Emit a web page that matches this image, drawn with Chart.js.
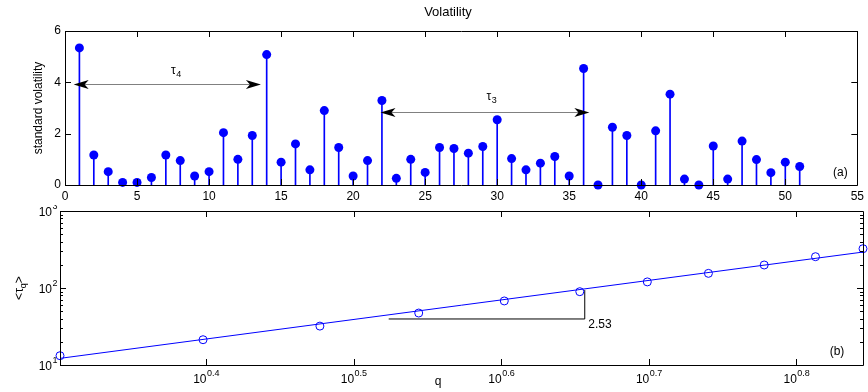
<!DOCTYPE html>
<html>
<head>
<meta charset="utf-8">
<script src="https://cdn.jsdelivr.net/npm/chart.js@4/dist/chart.umd.min.js"></script>
<style>
  body { margin: 0; background: #fff; width: 868px; height: 392px; position: relative; overflow: hidden; }
  canvas { position: absolute; left: 0; }
  #volChart { top: 0; }
  #tauChart { top: 205px; }
</style>
</head>
<body>
<canvas id="volChart" width="868" height="205"></canvas>
<canvas id="tauChart" width="868" height="187"></canvas>
<script>
var FONT = "'Liberation Sans', Arial, sans-serif"
var BLUE = '#0000ff'

//panel (a) data
var days = [1, 2, 3, 4, 5, 6, 7, 8, 9, 10, 11, 12, 13, 14, 15, 16, 17, 18, 19, 20,
  21, 22, 23, 24, 25, 26, 27, 28, 29, 30, 31, 32, 33, 34, 35, 36, 37, 38, 39, 40,
  41, 42, 43, 44, 45, 46, 47, 48, 49, 50, 51]
var volatility = [5.34, 1.17, 0.52, 0.10, 0.10, 0.29, 1.17, 0.95, 0.35, 0.52,
  2.04, 1.00, 1.93, 5.08, 0.89, 1.60, 0.59, 2.90, 1.46, 0.35,
  0.95, 3.29, 0.26, 1.00, 0.49, 1.46, 1.42, 1.24, 1.50, 2.54,
  1.03, 0.59, 0.85, 1.11, 0.35, 4.54, 0, 2.25, 1.93, 0,
  2.11, 3.54, 0.23, 0, 1.52, 0.23, 1.71, 0.99, 0.48, 0.89, 0.72]
var volXTicks = [0, 5, 10, 15, 20, 25, 30, 35, 40, 45, 50, 55]
var volYTicks = [0, 2, 4, 6]
//arrows: [from, to, level, label, label x, label y, subscript]
var tau4 = [0.6, 13.6, 3.95, 4.45, 7.7]
var tau3 = [21.9, 36.4, 2.86, 3.44, 29.6]

//panel (b) data
var qValues = [2, 2.5, 3, 3.5, 4, 4.5, 5, 5.5, 6, 6.5, 7]
var tauMean = [13.2, 21.3, 32, 47.3, 67.9, 89.6, 120, 155, 199, 255, 324]
var fitQ = [2, 7]
var fitTau = [12.2, 293]
var slopeQ = [3.34, 4.535, 4.535]
var slopeTau = [39.6, 39.6, 94]
var slopeText = '2.53'
var qTickExp = ['0.4', '0.5', '0.6', '0.7', '0.8']
var tauTickExp = ['1', '2', '3']
var tauMinor = [20, 30, 40, 50, 60, 70, 80, 90, 200, 300, 400, 500, 600, 700, 800, 900]

function pts(xs, ys) {
  return xs.map(function(x, i) { return {x: x, y: ys[i]} })
}

//box + inward ticks like matlab
function drawBox(chart, xVals, yVals, yMinor) {
  var ctx = chart.ctx, a = chart.chartArea
  var sx = chart.scales.x, sy = chart.scales.y
  ctx.save()
  ctx.strokeStyle = '#000'
  ctx.lineWidth = 1
  ctx.beginPath()
  ctx.rect(Math.round(a.left) + 0.5, Math.round(a.top) + 0.5, Math.round(a.right - a.left), Math.round(a.bottom - a.top))
  xVals.forEach(function(v) {
    var px = Math.round(sx.getPixelForValue(v)) + 0.5
    ctx.moveTo(px, a.bottom); ctx.lineTo(px, a.bottom - 6)
    ctx.moveTo(px, a.top); ctx.lineTo(px, a.top + 6)
  })
  yVals.forEach(function(v) {
    var py = Math.round(sy.getPixelForValue(v)) + 0.5
    ctx.moveTo(a.left, py); ctx.lineTo(a.left + 6, py)
    ctx.moveTo(a.right, py); ctx.lineTo(a.right - 6, py)
  })
  ;(yMinor || []).forEach(function(v) {
    var py = Math.round(sy.getPixelForValue(v)) + 0.5
    ctx.moveTo(a.left, py); ctx.lineTo(a.left + 3, py)
    ctx.moveTo(a.right, py); ctx.lineTo(a.right - 3, py)
  })
  ctx.stroke()
  ctx.restore()
}

//text with superscript (up) or subscript (down)
function scriptText(ctx, base, small, x, y, align, up) {
  ctx.font = '12px ' + FONT
  var w1 = ctx.measureText(base).width
  ctx.font = '9px ' + FONT
  var w2 = ctx.measureText(small).width
  var x0 = align == 'right' ? x - w1 - w2 : (align == 'center' ? x - (w1 + w2) / 2 : x)
  ctx.textAlign = 'left'
  ctx.textBaseline = 'middle'
  ctx.font = '12px ' + FONT
  ctx.fillText(base, x0, y)
  ctx.font = '9px ' + FONT
  ctx.fillText(small, x0 + w1 + 0.5, up ? y - 6 : y + 4)
}

function arrowHead(ctx, x, y, dir) {
  ctx.beginPath()
  ctx.moveTo(x, y)
  ctx.lineTo(x + dir * 15, y - 4.5)
  ctx.lineTo(x + dir * 11, y)
  ctx.lineTo(x + dir * 15, y + 4.5)
  ctx.closePath()
  ctx.fill()
}

function drawArrow(chart, arr, sub) {
  var ctx = chart.ctx, sx = chart.scales.x, sy = chart.scales.y
  var x1 = sx.getPixelForValue(arr[0]), x2 = sx.getPixelForValue(arr[1])
  var y = Math.round(sy.getPixelForValue(arr[2])) + 0.5
  ctx.save()
  ctx.strokeStyle = '#808080'
  ctx.lineWidth = 1
  ctx.beginPath()
  ctx.moveTo(x1 + 10, y); ctx.lineTo(x2 - 10, y)
  ctx.stroke()
  ctx.fillStyle = '#000'
  arrowHead(ctx, x1, y, 1)
  arrowHead(ctx, x2, y, -1)
  scriptText(ctx, 'τ', sub, sx.getPixelForValue(arr[4]), sy.getPixelForValue(arr[3]), 'center', false)
  ctx.restore()
}

var volExtras = {
  id: 'volExtras',
  afterDatasetsDraw: function(chart) {
    var ctx = chart.ctx, a = chart.chartArea
    drawBox(chart, volXTicks, volYTicks)
    drawArrow(chart, tau4, '4')
    drawArrow(chart, tau3, '3')
    ctx.save()
    ctx.fillStyle = '#000'
    ctx.textBaseline = 'middle'
    ctx.textAlign = 'center'
    ctx.font = '13px ' + FONT
    ctx.fillText('Volatility', 448, 12)
    ctx.font = '12px ' + FONT
    ctx.fillText('(a)', a.right - 17, a.bottom - 12)
    ctx.restore()
  }
}

new Chart(document.getElementById('volChart'), {
  type: 'bar',
  data: {
    datasets: [{
      type: 'bar',
      data: pts(days, volatility),
      backgroundColor: BLUE,
      barThickness: 1,
      order: 2
    }, {
      type: 'scatter',
      data: pts(days, volatility),
      pointRadius: 4.5,
      pointBackgroundColor: BLUE,
      pointBorderWidth: 0,
      clip: false,
      order: 1
    }]
  },
  options: {
    responsive: false,
    animation: false,
    layout: { padding: { top: 31, right: 8 } },
    plugins: { legend: { display: false }, tooltip: { enabled: false } },
    scales: {
      x: {
        type: 'linear', min: 0, max: 55, offset: false,
        grid: { display: false, drawTicks: false, offset: false },
        border: { display: false },
        ticks: { stepSize: 5, padding: 4, color: '#000', font: { size: 12, family: FONT } },
        afterFit: function(s) { s.height = 20 }
      },
      y: {
        min: 0, max: 6,
        grid: { display: false, drawTicks: false },
        border: { display: false },
        ticks: { stepSize: 2, padding: 4, color: '#000', font: { size: 12, family: FONT } },
        title: { display: true, text: 'standard volatility', color: '#000', font: { size: 12, family: FONT }, padding: { top: 31 } },
        afterFit: function(s) { s.width = 65 }
      }
    }
  },
  plugins: [volExtras]
})

var tauExtras = {
  id: 'tauExtras',
  afterDatasetsDraw: function(chart) {
    var ctx = chart.ctx, a = chart.chartArea
    var sx = chart.scales.x, sy = chart.scales.y
    var qTicks = qTickExp.map(function(e) { return Math.pow(10, parseFloat(e)) })
    var tauTicks = tauTickExp.map(function(e) { return Math.pow(10, parseFloat(e)) })
    drawBox(chart, qTicks, tauTicks, tauMinor)
    ctx.save()
    ctx.fillStyle = '#000'
    qTicks.forEach(function(v, i) {
      scriptText(ctx, '10', qTickExp[i], sx.getPixelForValue(v), a.bottom + 15, 'center', true)
    })
    tauTicks.forEach(function(v, i) {
      scriptText(ctx, '10', tauTickExp[i], a.left - 3, sy.getPixelForValue(v) + 2, 'right', true)
    })
    ctx.font = '12px ' + FONT
    ctx.textAlign = 'center'
    ctx.textBaseline = 'middle'
    ctx.fillText('q', 438, 177)
    ctx.fillText('(b)', a.right - 26, a.bottom - 13)
    ctx.textAlign = 'left'
    ctx.fillText(slopeText, sx.getPixelForValue(4.56), sy.getPixelForValue(33))
    //rotated y label <tau_q>
    ctx.translate(20, 83)
    ctx.rotate(-Math.PI / 2)
    ctx.font = '12px ' + FONT
    var w1 = ctx.measureText('<τ').width
    ctx.font = '9px ' + FONT
    var w2 = ctx.measureText('q').width
    ctx.font = '12px ' + FONT
    var w3 = ctx.measureText('>').width
    var x0 = -(w1 + w2 + w3) / 2
    ctx.fillText('<τ', x0, 0)
    ctx.font = '9px ' + FONT
    ctx.fillText('q', x0 + w1, 4)
    ctx.font = '12px ' + FONT
    ctx.fillText('>', x0 + w1 + w2, 0)
    ctx.restore()
  }
}

new Chart(document.getElementById('tauChart'), {
  type: 'scatter',
  data: {
    datasets: [{
      data: pts(qValues, tauMean),
      pointRadius: 4,
      pointBackgroundColor: 'rgba(0,0,0,0)',
      pointBorderColor: BLUE,
      pointBorderWidth: 1,
      clip: false
    }, {
      data: pts(fitQ, fitTau),
      showLine: true,
      borderColor: BLUE,
      borderWidth: 1,
      pointRadius: 0
    }, {
      data: pts(slopeQ, slopeTau),
      showLine: true,
      borderColor: '#000',
      borderWidth: 1,
      pointRadius: 0
    }]
  },
  options: {
    responsive: false,
    animation: false,
    layout: { padding: { top: 6, right: 5 } },
    plugins: { legend: { display: false }, tooltip: { enabled: false } },
    scales: {
      x: {
        type: 'logarithmic', min: 2, max: 7,
        grid: { display: false, drawTicks: false },
        border: { display: false },
        ticks: { display: false },
        afterFit: function(s) { s.height = 27 }
      },
      y: {
        type: 'logarithmic', min: 10, max: 1000,
        grid: { display: false, drawTicks: false },
        border: { display: false },
        ticks: { display: false },
        afterFit: function(s) { s.width = 60 }
      }
    }
  },
  plugins: [tauExtras]
})
</script>
</body>
</html>
